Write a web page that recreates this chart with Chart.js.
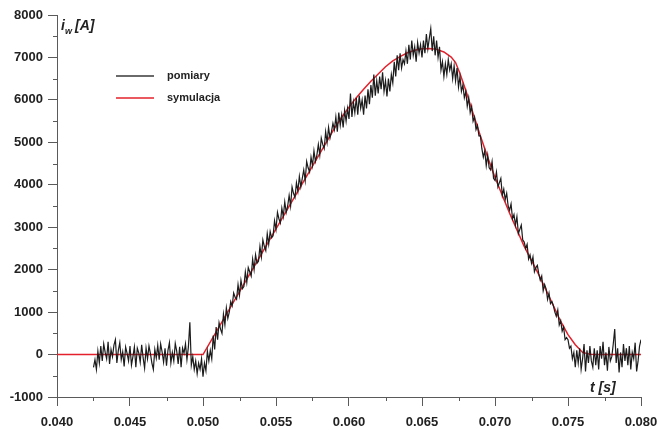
<!DOCTYPE html>
<html>
<head>
<meta charset="utf-8">
<script src="https://cdn.jsdelivr.net/npm/chart.js@4.4.1/dist/chart.umd.min.js"></script>
<style>
  html, body { margin: 0; padding: 0; background: #fff; }
  canvas { display: block; }
</style>
</head>
<body>
<canvas id="chart" width="658" height="430"></canvas>
<script>
// measured current, one sample every 0.1 ms, each row starts at the given time
const sampleStep = 0.0001;
const measRows = [
    [0.0425, [-300, -120, -350, 80, -200]],
    [0.043, [200, -150, 250, 50, -100, 300, -220, 120, -50, 220]],
    [0.044, [350, -200, 100, 280, -120, 60, -280, 180, 30, -150]],
    [0.045, [200, -250, -50, 180, -300, 150, 40, -180, 230, -80]],
    [0.046, [-320, 150, -100, 200, 20, -200, -350, 120, -80, 220]],
    [0.047, [-120, 250, 60, -180, 150, -260, 100, 280, -200, 50]],
    [0.048, [-150, 260, 80, -220, 180, -300, 150, 30, 250, -120]],
    [0.049, [180, 760, -250, -50, -350, -150, -450, -200, -350, -100]],
    [0.050, [-520, -200, -380, 80, -150, 100, -100, 450, 120, 650]],
    [0.051, [350, 750, 600, 500, 950, 700, 1100, 850, 1000, 1250]],
    [0.052, [1150, 1450, 1350, 1300, 1650, 1400, 1750, 1550, 1600, 1950]],
    [0.053, [1700, 2050, 1950, 1850, 2250, 2000, 2350, 2150, 2200, 2550]],
    [0.054, [2300, 2700, 2550, 2450, 2850, 2600, 2900, 2750, 2800, 3150]],
    [0.055, [2950, 3350, 3200, 3100, 3450, 3250, 3600, 3350, 3500, 3750]],
    [0.056, [3500, 3950, 3800, 3700, 4050, 3850, 4200, 3950, 4150, 4350]],
    [0.057, [4100, 4550, 4400, 4300, 4650, 4450, 4800, 4550, 4700, 4950]],
    [0.058, [4700, 5100, 4950, 4850, 5250, 5000, 5350, 5100, 5250, 5450]],
    [0.059, [5300, 5600, 5250, 5700, 5400, 5650, 5350, 5750, 5500, 5800]],
    [0.060, [5550, 6150, 5600, 5950, 5700, 6050, 5650, 6100, 5800, 6000]],
    [0.061, [5650, 6100, 5800, 6250, 5900, 6350, 6050, 6600, 6100, 6450]],
    [0.062, [6150, 6550, 6250, 6650, 6200, 6450, 6080, 6500, 6200, 6600]],
    [0.063, [6400, 6900, 6550, 7050, 6700, 7100, 6750, 6950, 6850, 7150]],
    [0.064, [6850, 7300, 6950, 7400, 7050, 7250, 6900, 7350, 7100, 7300]],
    [0.065, [7000, 7400, 7100, 7550, 7200, 7450, 7680, 7150, 7500, 7050]],
    [0.066, [7400, 7000, 7250, 6700, 6900, 6550, 6850, 6600, 6950, 6700]],
    [0.067, [6850, 6500, 6800, 6450, 6750, 6300, 6550, 6200, 6350, 6050]],
    [0.068, [6200, 5850, 6050, 5700, 5850, 5500, 5600, 5300, 5400, 5150]],
    [0.069, [5150, 4850, 4650, 4800, 4450, 4700, 4400, 4350, 4550, 4150]],
    [0.070, [4100, 4300, 3950, 4050, 4150, 3750, 3900, 3650, 3800, 3500]],
    [0.071, [3400, 3550, 3200, 3300, 3050, 3250, 2850, 2950, 3050, 2700]],
    [0.072, [2650, 2500, 2600, 2250, 2350, 2150, 2300, 1950, 2050, 2100]],
    [0.073, [1900, 1750, 1850, 1500, 1650, 1550, 1300, 1450, 1200, 1250]],
    [0.074, [1150, 1000, 900, 1050, 700, 800, 550, 650, 350, 400]],
    [0.075, [350, 150, 200, -100, 50, -300, 100, -200, 150, -350]],
    [0.076, [-100, 250, -400, 100, -200, 200, -150, -300, 150, -250]],
    [0.077, [100, -350, 200, -100, 300, -250, 50, -380, 180, -150]],
    [0.078, [-50, 250, 600, -200, 150, -420, 50, -300, 250, -150]],
    [0.079, [150, -250, 200, -350, 50, -100, 280, -400, -150, 200]],
    [0.080, [350]]
];

// simulation
const simTime = [0.040, 0.050, 0.059, 0.0595, 0.060, 0.0605, 0.061, 0.0615, 0.062, 0.0625,
    0.063, 0.0635, 0.064, 0.0645, 0.065, 0.0655, 0.066, 0.0665, 0.067, 0.0673,
    0.0676, 0.068, 0.0685, 0.069, 0.0695, 0.070, 0.071, 0.072, 0.073, 0.0735,
    0.074, 0.0745, 0.075, 0.0755, 0.076, 0.0765, 0.077, 0.080];
const simCurrent = [0, 0, 5330, 5590, 5830, 6050, 6250, 6440, 6610, 6780,
    6920, 7020, 7110, 7170, 7205, 7210, 7190, 7130, 7010, 6880,
    6620, 6220, 5680, 5150, 4650, 4170, 3330, 2550, 1880, 1520,
    1150, 780, 470, 230, 50, 10, 0, 0];

const xTicks = [0.040, 0.045, 0.050, 0.055, 0.060, 0.065, 0.070, 0.075, 0.080];
const yTicks = [-1000, 0, 1000, 2000, 3000, 4000, 5000, 6000, 7000, 8000];

const seriesNames = ['pomiary', 'symulacja'];

let measData = [];
measRows.forEach(function(row) {
    row[1].forEach(function(v, i) {
        measData.push({ x: row[0] + i * sampleStep, y: v });
    });
});
let simData = simTime.map(function(t, i) {
    return { x: t, y: simCurrent[i] };
});

const axisColor = '#5a5a5a';
const textColor = '#222';

// minor ticks, axis titles and the legend
const decorPlugin = {
    id: 'decor',
    afterDraw: function(chart) {
        let ctx = chart.ctx;
        let xs = chart.scales.x, ys = chart.scales.y;
        let area = chart.chartArea;
        ctx.save();
        ctx.strokeStyle = axisColor;
        ctx.lineWidth = 1;
        ctx.beginPath();
        for (let i = 0; i < xTicks.length - 1; i++) {
            let px = Math.round(xs.getPixelForValue((xTicks[i] + xTicks[i + 1]) / 2)) + 0.5;
            ctx.moveTo(px, area.bottom);
            ctx.lineTo(px, area.bottom + 4);
        }
        for (let i = 0; i < yTicks.length - 1; i++) {
            let py = Math.round(ys.getPixelForValue((yTicks[i] + yTicks[i + 1]) / 2)) + 0.5;
            ctx.moveTo(area.left, py);
            ctx.lineTo(area.left - 4, py);
        }
        ctx.stroke();

        // axis titles
        ctx.fillStyle = textColor;
        ctx.textBaseline = 'alphabetic';
        ctx.textAlign = 'left';
        ctx.font = 'italic bold 14px "Liberation Sans", Arial, sans-serif';
        ctx.fillText('i', 61, 30);
        ctx.font = 'italic bold 9px "Liberation Sans", Arial, sans-serif';
        ctx.fillText('w', 65, 34);
        ctx.font = 'italic bold 14px "Liberation Sans", Arial, sans-serif';
        ctx.fillText('[A]', 75, 30);
        ctx.fillText('t [s]', 590, 392);

        // legend
        let items = [
            { y: 76, color: '#6a6a6a', width: 2 },
            { y: 98, color: '#e3202b', width: 1.5 }
        ];
        ctx.font = 'bold 11px "Liberation Sans", Arial, sans-serif';
        ctx.textBaseline = 'middle';
        items.forEach(function(it, i) {
            ctx.strokeStyle = it.color;
            ctx.lineWidth = it.width;
            ctx.beginPath();
            ctx.moveTo(116, it.y);
            ctx.lineTo(154, it.y);
            ctx.stroke();
            ctx.fillText(seriesNames[i], 167, it.y);
        });
        ctx.restore();
    }
};

new Chart(document.getElementById('chart').getContext('2d'), {
    type: 'line',
    data: {
        datasets: [{
            label: seriesNames[0],
            data: measData,
            borderColor: '#1c1c1c',
            borderWidth: 1.2,
            pointRadius: 0,
            tension: 0
        }, {
            label: seriesNames[1],
            data: simData,
            borderColor: '#e3202b',
            borderWidth: 1.5,
            pointRadius: 0,
            tension: 0
        }]
    },
    options: {
        responsive: false,
        animation: false,
        devicePixelRatio: 1,
        layout: { padding: { top: 15, right: 17, left: 0, bottom: 0 } },
        plugins: {
            legend: { display: false },
            tooltip: { enabled: false }
        },
        scales: {
            x: {
                type: 'linear',
                min: 0.040,
                max: 0.080,
                afterBuildTicks: function(scale) {
                    scale.ticks = xTicks.map(function(v) { return { value: v }; });
                },
                afterFit: function(scale) {
                    scale.height = 33;
                    scale.paddingLeft = 0;
                    scale.paddingRight = 0;
                },
                grid: { drawOnChartArea: false, tickLength: 9, color: axisColor },
                border: { color: axisColor },
                ticks: {
                    color: textColor,
                    font: { family: '"Liberation Sans", Arial, sans-serif', size: 13, weight: 'bold' },
                    padding: 9,
                    maxRotation: 0,
                    callback: function(v) { return v.toFixed(3); }
                }
            },
            y: {
                min: -1000,
                max: 8000,
                afterBuildTicks: function(scale) {
                    scale.ticks = yTicks.map(function(v) { return { value: v }; });
                },
                afterFit: function(scale) {
                    scale.width = 57;
                    scale.paddingTop = 0;
                    scale.paddingBottom = 0;
                },
                grid: { drawOnChartArea: false, tickLength: 9, color: axisColor },
                border: { color: axisColor },
                ticks: {
                    color: textColor,
                    font: { family: '"Liberation Sans", Arial, sans-serif', size: 13, weight: 'bold' },
                    padding: 5,
                    callback: function(v) { return String(v); }
                }
            }
        }
    },
    plugins: [decorPlugin]
});
</script>
</body>
</html>
